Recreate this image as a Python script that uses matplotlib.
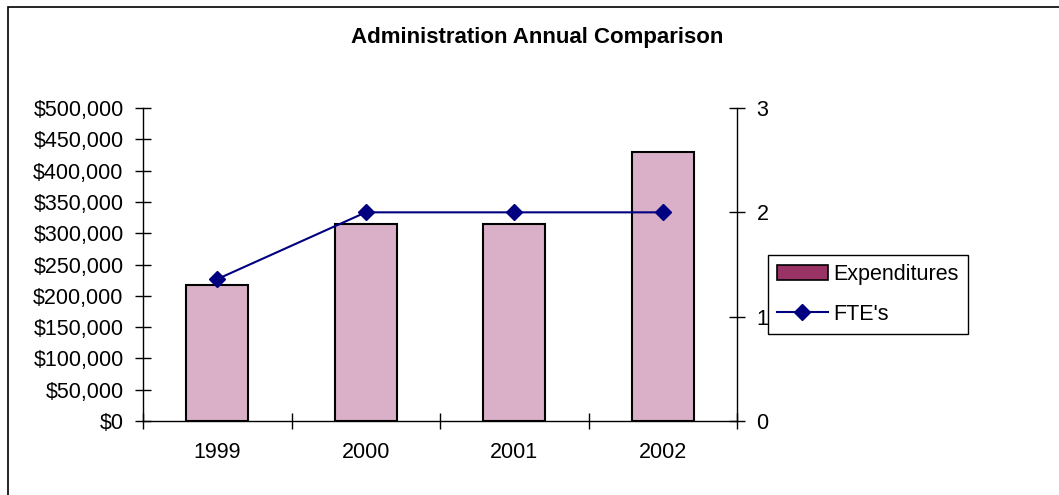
import matplotlib
matplotlib.use("Agg")
import matplotlib.pyplot as plt
from matplotlib.patches import Patch, Rectangle
from matplotlib.lines import Line2D
from matplotlib.ticker import FuncFormatter, MultipleLocator, FixedLocator
import numpy as np

plt.rcParams['font.family'] = ['Liberation Sans', 'DejaVu Sans']

years = ['1999', '2000', '2001', '2002']
expenditures = [218000, 314000, 314000, 430000]
ftes = [1.36, 2.0, 2.0, 2.0]

fig = plt.figure(figsize=(10.59, 4.95), dpi=100)
ax = fig.add_axes([143/1059, 1-421/495, (737-143)/1059, (421-108)/495])

x = np.arange(len(years))
ax.bar(x, expenditures, width=0.42, color='#D9B0C7', edgecolor='black', linewidth=1.5, zorder=2)
ax.set_xlim(-0.5, len(years)-0.5)
ax.set_ylim(0, 500000)
ax.yaxis.set_major_locator(MultipleLocator(50000))
ax.yaxis.set_major_formatter(FuncFormatter(lambda v, p: f"${v:,.0f}"))
ax.set_xticks(x)
ax.set_xticklabels(years)
ax.tick_params(axis='x', length=0, pad=15, labelsize=15.5)
ax.tick_params(axis='y', direction='inout', length=12, width=1, labelsize=15.5, pad=8)
ax.xaxis.set_minor_locator(FixedLocator(np.arange(-0.5, len(years), 1.0)))
ax.tick_params(axis='x', which='minor', direction='inout', length=12, width=1)
for s in ['top', 'right']:
    ax.spines[s].set_visible(False)
ax.spines['left'].set_linewidth(1)
ax.spines['bottom'].set_linewidth(1)

ax2 = ax.twinx()
ax2.plot(x, ftes, color='#000080', linewidth=1.5, marker='D', markersize=8, zorder=3)
ax2.set_ylim(0, 3)
ax2.set_yticks([0, 1, 2, 3])
ax2.tick_params(axis='y', direction='inout', length=12, width=1, labelsize=15.5, pad=8)
for s in ['top', 'left', 'bottom']:
    ax2.spines[s].set_visible(False)
ax2.spines['right'].set_linewidth(1)

fig.text(537/1059, 1-38/495, 'Administration Annual Comparison', ha='center', va='center',
         fontsize=16, fontweight='bold')

handles = [Patch(facecolor='#993366', edgecolor='black', linewidth=1.2),
           Line2D([0], [0], color='#000080', marker='D', markersize=8, linewidth=1.5)]
leg = fig.legend(handles, ["Expenditures", "FTE's"], loc='upper left',
                 bbox_to_anchor=(768/1059, 1-255/495), fontsize=15.5, frameon=True,
                 fancybox=False, edgecolor='black', framealpha=1, borderaxespad=0,
                 handlelength=2.4, handletextpad=0.25, labelspacing=0.9, borderpad=0.4)
leg.get_frame().set_linewidth(1)

fig.add_artist(Rectangle((8/1059, -0.1), 1.2, 1-7/495+0.1, transform=fig.transFigure,
                         fill=False, edgecolor='black', linewidth=1.2))

fig.savefig('out.png', dpi=100)
